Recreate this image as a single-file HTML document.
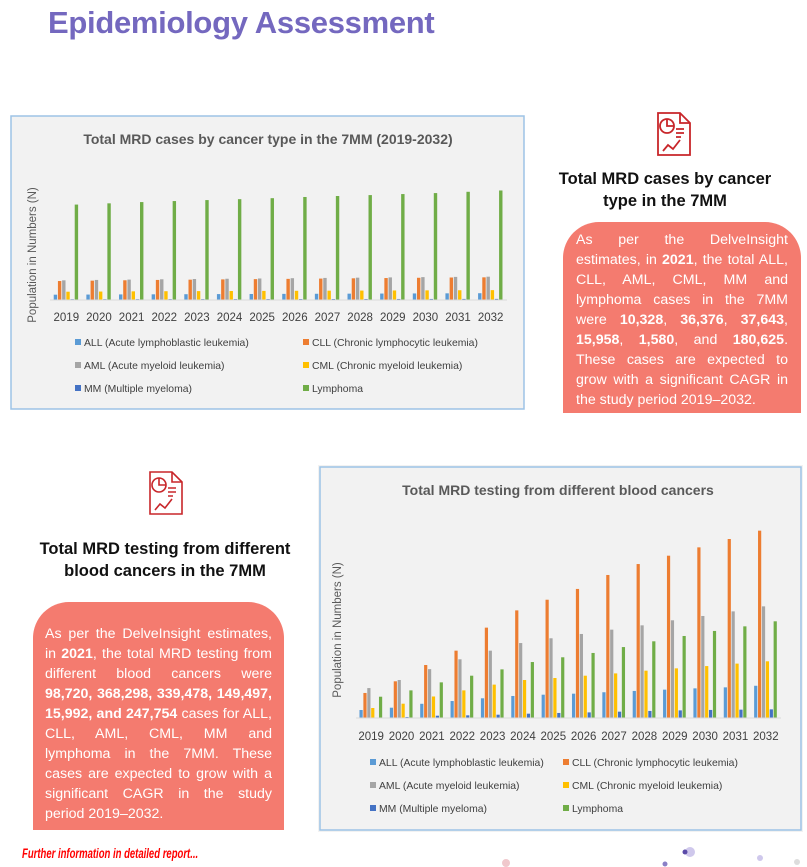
<!DOCTYPE html>
<html><head><meta charset="utf-8">
<style>
body{margin:0;width:807px;height:867px;background:#fff;position:relative;overflow:hidden;font-family:"Liberation Sans",sans-serif;}
.abs{position:absolute;}
.title{left:48px;top:5px;font-size:31px;font-weight:bold;color:#7468bf;letter-spacing:-0.3px;}
.hd{font-weight:bold;font-size:16.5px;color:#111;text-align:center;line-height:22px;}
.box{background:#f47b6f;color:#fff;font-size:14.2px;line-height:20px;text-align:justify;box-sizing:border-box;}
.box b{font-weight:bold;}
.foot{left:22px;top:845px;color:#f00;font-style:italic;font-weight:bold;font-size:14px;transform:scaleX(0.68);transform-origin:left;white-space:nowrap;}
</style></head><body>
<div class="abs title">Epidemiology Assessment</div>

<svg class="abs" style="left:654px;top:111px" width="40" height="46" viewBox="0 0 40 46">
<g fill="none" stroke="#c8262a" stroke-width="1.8"><path d="M4 2h22l10 10v32H4z"/><path d="M26 2v10h10"/><circle cx="13" cy="15" r="7"/><path d="M13 8v7h7"/><path d="M22 18h8M22 22h8M22 26h5"/><path d="M9 40l5-6 5 4 7-9"/></g></svg>
<div class="abs hd" style="left:545px;top:168px;width:240px">Total MRD cases by cancer<br>type in the 7MM</div>
<div class="abs box" style="left:563px;top:222px;width:238px;height:191px;border-radius:36px 36px 0 0;padding:8px 13px 0 13px">As per the DelveInsight estimates, in <b>2021</b>, the total ALL, CLL, AML, CML, MM and lymphoma cases in the 7MM were <b>10,328</b>, <b>36,376</b>, <b>37,643</b>, <b>15,958</b>, <b>1,580</b>, and <b>180,625</b>. These cases are expected to grow with a significant CAGR in the study period 2019–2032.</div>

<svg class="abs" style="left:146px;top:465px" width="40" height="56" viewBox="0 0 40 46">
<g fill="none" stroke="#c8262a" stroke-width="1.6"><path d="M4 2h22l10 10v32H4z"/><path d="M26 2v10h10"/><circle cx="13" cy="15" r="7"/><path d="M13 8v7h7"/><path d="M22 18h8M22 22h8M22 26h5"/><path d="M9 40l5-6 5 4 7-9"/></g></svg>
<div class="abs hd" style="left:15px;top:538px;width:300px">Total MRD testing from different blood cancers in the 7MM</div>
<div class="abs box" style="left:33px;top:602px;width:251px;height:228px;border-radius:36px 36px 0 0;padding:22px 12px 0 12px">As per the DelveInsight estimates, in <b>2021</b>, the total MRD testing from different blood cancers were <b>98,720, 368,298, 339,478, 149,497, 15,992, and 247,754</b> cases for ALL, CLL, AML, CML, MM and lymphoma in the 7MM. These cases are expected to grow with a significant CAGR in the study period 2019–2032.</div>

<div class="abs foot">Further information in detailed report...</div>

<svg class="abs" style="left:10px;top:115px" width="515" height="295" id="c1"></svg>
<div class="abs" style="left:318px;top:465px;width:485px;height:367px;background:#f2f2f2"></div>
<svg class="abs" style="left:318px;top:465px" width="485" height="367" id="c2"></svg>

<svg class="abs" style="left:440px;top:840px" width="367" height="27">
<circle cx="66" cy="23" r="4" fill="#f0c8cc"/><circle cx="225" cy="24" r="2.5" fill="#8a7fc6"/><circle cx="250" cy="12" r="5" fill="#cfc8ec"/><circle cx="245" cy="12" r="2.5" fill="#5a4aa8"/><circle cx="320" cy="18" r="3" fill="#cfc8ec"/><circle cx="357" cy="22" r="3" fill="#ddd"/></svg>

<script>
const years=["2019","2020","2021","2022","2023","2024","2025","2026","2027","2028","2029","2030","2031","2032"];
const seriesNames=["ALL (Acute lymphoblastic leukemia)","CLL (Chronic lymphocytic leukemia)","AML (Acute myeloid leukemia)","CML (Chronic myeloid leukemia)","MM (Multiple myeloma)","Lymphoma"];
const colors=["#5b9bd5","#ed7d31","#a5a5a5","#ffc000","#4472c4","#70ad47"];
// Chart 1: cases
const c1ALL=[9800,10050,10328,10500,10700,10900,11100,11300,11500,11700,11900,12100,12300,12500];
const c1CLL=[35000,35700,36376,37000,37500,38000,38500,39000,39500,40000,40500,41000,41500,41800];
const c1AML=[36300,37000,37643,38200,38700,39200,39700,40200,40700,41200,41700,42200,42600,43000];
const c1CML=[15300,15600,15958,16200,16400,16600,16800,17000,17200,17400,17600,17800,18000,18200];
const c1MM=[1500,1540,1580,1620,1660,1700,1740,1780,1820,1860,1900,1940,1980,2020];
const c1Lym=[176000,178300,180625,182500,184300,186000,187800,190000,191800,193500,195400,197200,199600,202000];
// Chart 2: testing
const c2ALL=[55600,71600,98720,118000,137000,153000,162000,169000,179000,188000,197000,206000,213000,224000];
const c2CLL=[174000,255000,368298,468000,628000,748000,822000,897000,994000,1070000,1128000,1186000,1244000,1302000];
const c2AML=[208000,264000,339478,408000,468000,521000,554000,584000,614000,644000,679000,709000,741000,776000];
const c2CML=[69500,99400,149497,192000,232000,264000,278000,294000,310000,329000,345000,361000,378000,394000];
const c2MM=[0,7000,15992,18500,23000,30000,35000,39000,44000,49000,53000,56000,58000,60000];
const c2Lym=[148000,192000,247754,294000,338000,389000,422000,452000,493000,533000,570000,605000,637000,672000];

const NS="http://www.w3.org/2000/svg";
function mk(svg,tag,attrs,name,inter){const e=document.createElementNS(NS,tag);for(const k in attrs)e.setAttribute(k,attrs[k]);


svg.appendChild(e);return e;}
function txt(svg,x,y,s,size,name,extra){const t=mk(svg,'text',Object.assign({x:x,y:y,'font-size':size,fill:'#595959','font-family':'Liberation Sans, sans-serif'},extra||{}),name,false);t.textContent=s;return t;}

function chart(svg,cfg,data){
  const W=cfg.w,H=cfg.h;
  mk(svg,'rect',{x:cfg.bx,y:cfg.bx,width:W-2*cfg.bx,height:H-2*cfg.bx,fill:'#f2f2f2',stroke:'#9dc3e6','stroke-width':1.5},'chart-frame',false);
  txt(svg,cfg.titleX,cfg.titleY,cfg.title,14,'chart-title',{'font-weight':'bold','text-anchor':'middle'});
  txt(svg,0,0,'Population in Numbers (N)',11.5,'y-axis-title',{'text-anchor':'middle',transform:`translate(${cfg.ylX},${cfg.ylY}) rotate(-90)`});
  const x0=cfg.x0,x1=cfg.x1,base=cfg.base,gw=(x1-x0)/years.length;
  const y=v=>base-v/cfg.yMax*cfg.ph;
  years.forEach((yr,i)=>{
    const cx=x0+gw*(i+0.5);
    data.forEach((arr,s)=>{
      const bx=cx-cfg.step*3+s*cfg.step;const top=y(arr[i]);
      mk(svg,'rect',{x:bx,y:top,width:cfg.bw,height:Math.max(0,base-top),fill:colors[s]},'bar-'+yr+'-'+s,false);
    });
    txt(svg,cx,cfg.yearY,yr,11.5,'x-tick-'+yr,{'text-anchor':'middle',fill:'#404040'});
  });
  mk(svg,'line',{x1:x0,x2:x1,y1:base,y2:base,stroke:'#d9d9d9','stroke-width':1},'x-axis',false);
  seriesNames.forEach((n,s)=>{
    const col=s%2,row=Math.floor(s/2);
    const lx=cfg.legX[col],ly=cfg.legY+row*cfg.legDy;
    mk(svg,'rect',{x:lx,y:ly-7,width:6,height:6,fill:colors[s]},'legend-swatch-'+s,false);
    txt(svg,lx+9,ly,n,10.4,'legend-entry-'+s,{fill:'#404040'});
  });
}
chart(document.getElementById('c1'),{w:515,h:295,bx:1,title:'Total MRD cases by cancer type in the 7MM (2019-2032)',titleX:258,titleY:29,ylX:26,ylY:140,x0:40,x1:497,base:185,ph:180,yMax:332000,step:4.2,bw:3.4,yearY:206,legX:[65,293],legY:231,legDy:23},
 [c1ALL,c1CLL,c1AML,c1CML,c1MM,c1Lym]);
chart(document.getElementById('c2'),{w:485,h:367,bx:2,title:'Total MRD testing from different blood cancers',titleX:240,titleY:30,ylX:23,ylY:165,x0:38,x1:463,base:253,ph:200,yMax:1390000,step:3.9,bw:3.2,yearY:275,legX:[52,245],legY:301,legDy:23},
 [c2ALL,c2CLL,c2AML,c2CML,c2MM,c2Lym]);
</script>
</body></html>
